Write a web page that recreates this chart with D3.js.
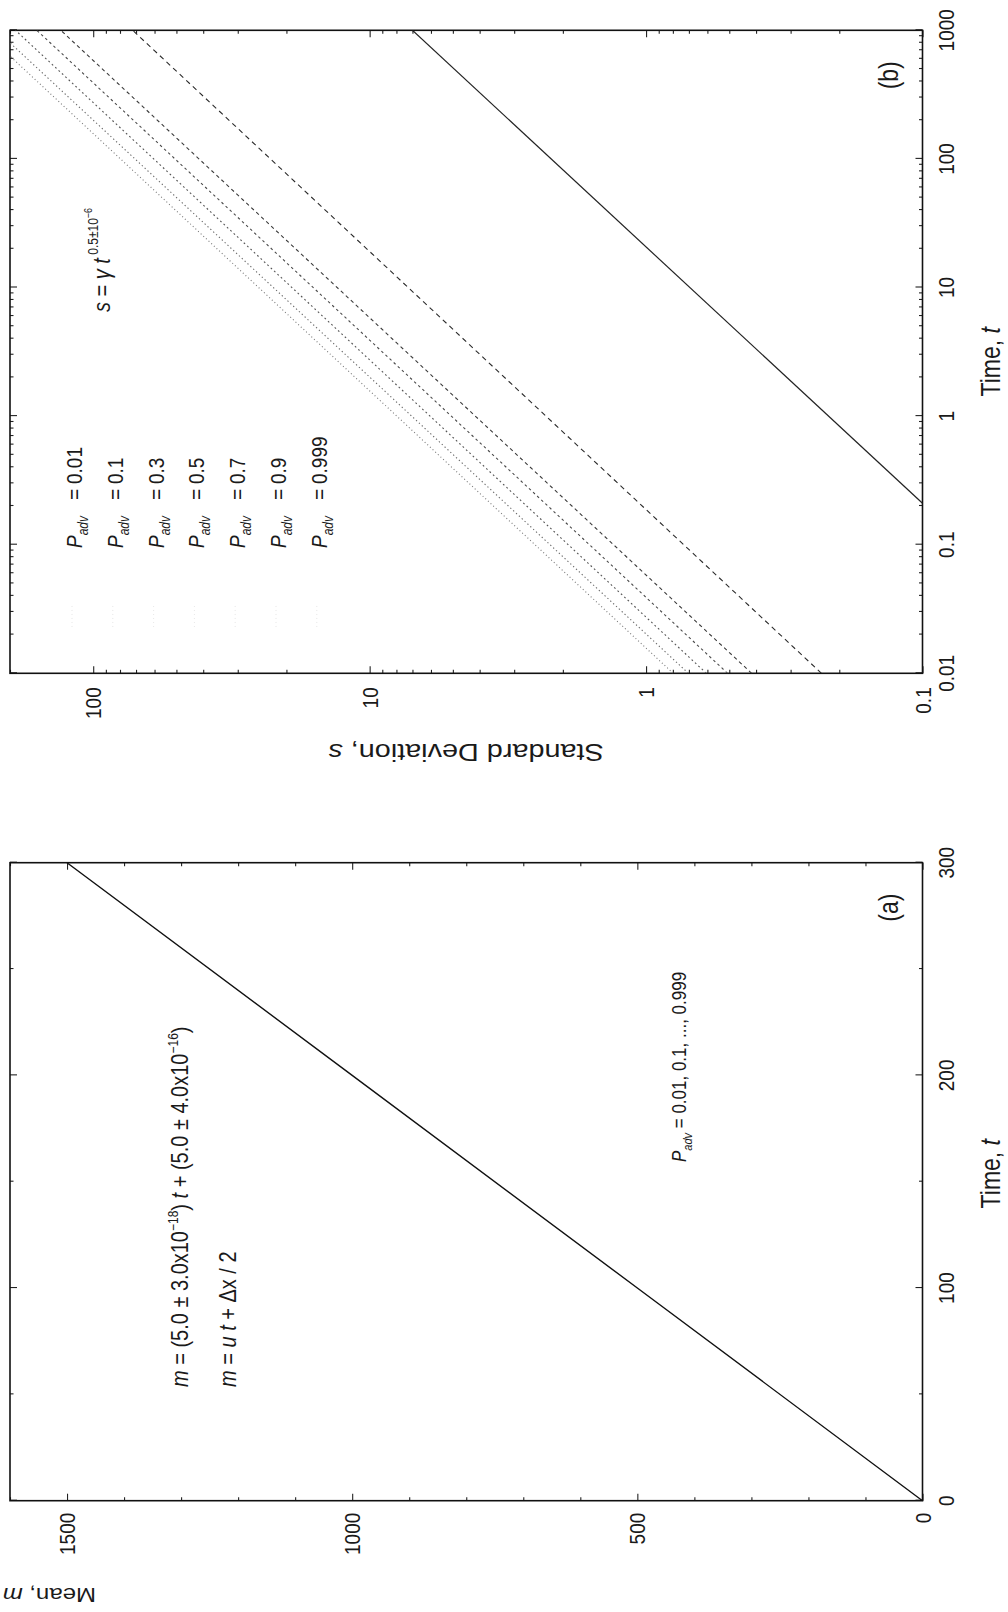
<!DOCTYPE html>
<html><head><meta charset="utf-8">
<script src="https://cdn.jsdelivr.net/npm/d3@7"></script>
<style>
body{margin:0;background:#fff}
svg{display:block}
text{font-family:"Liberation Sans",Arial,Helvetica,sans-serif;fill:#1a1a1a}
</style>
</head><body>
<script>
// ---------------- data ----------------
// Panel (a): mean vs time (all P_adv curves coincide)
const meanTime  = [0, 100, 200, 300];
const meanValue = [0, 500, 1000, 1500];
const aTimeTicks  = [0, 100, 200, 300];
const aTimeMinor  = [50, 150, 250];
const aMeanTicks  = [0, 500, 1000, 1500];
const aMeanMinor  = [100,200,300,400,600,700,800,900,1100,1200,1300,1400,1600];

// Panel (b): standard deviation vs time (log-log), one straight segment per P_adv
const padvLabels = ["0.01", "0.1", "0.3", "0.5", "0.7", "0.9", "0.999"];
const sdStartT = [0.01, 0.01, 0.01, 0.01, 0.01, 0.01, 0.21];
const sdStartS = [0.798, 0.703, 0.605, 0.507, 0.415, 0.232, 0.1];
const sdEndT   = [630, 800, 1000, 1000, 1000, 1000, 1000];
const sdEndS   = [200, 200, 191, 160, 131, 72, 7.0];
const bTimeTicks = [0.01, 0.1, 1, 10, 100, 1000];
const bTimeTickLabels = ["0.01", "0.1", "1", "10", "100", "1000"];
const bSdTicks = [0.1, 1, 10, 100];
const bSdTickLabels = ["0.1", "1", "10", "100"];

// ---------------- styles ----------------
const lineDash  = ["1,2.6", "1.3,2.6", "1.8,2.8", "2.6,3", "3.6,3.2", "5,4", null];
const lineColor = ["#777", "#6a6a6a", "#555", "#4a4a4a", "#3a3a3a", "#2a2a2a", "#222"];
const SY = 1.2;               // vertical stretch of the scanned glyphs (screen x)
const FS = 19;                // tick label size

// ---------------- setup ----------------
const W = 1008, H = 1612;
const svg = d3.select("body").append("svg").attr("width", W).attr("height", H);
svg.append("rect").attr("width", W).attr("height", H).attr("fill", "#fff");
// original (landscape) figure, rotated onto the portrait page
const root = svg.append("g").attr("transform", `translate(0,${H}) rotate(-90)`);

function txt(g, x, y, anchor, size, parts, rot) {
  const t = g.append("text")
    .attr("transform", `translate(${x},${y}) scale(1,${SY})` + (rot ? ` rotate(${rot})` : ""))
    .attr("text-anchor", anchor).attr("font-size", size);
  let cur = 0;
  parts.forEach(p => {
    const ts = t.append("tspan").text(p.t);
    if (p.i) ts.attr("font-style", "italic");
    if (p.fs) ts.attr("font-size", p.fs);
    const target = p.dy || 0;
    if (target !== cur) { ts.attr("dy", target - cur); cur = target; }
  });
  return t;
}

function frameAxes(g, x, y, w, h, xMajor, xMinor, yMajor, yMinor) {
  const mk = (axisFn, scale, vals, size) => axisFn(scale).tickValues(vals).tickSize(size).tickFormat("");
  const put = (ax, tr) => {
    const a = g.append("g").attr("transform", tr).call(ax);
    a.select(".domain").remove();
    a.selectAll("line").attr("stroke", "#222").attr("stroke-width", 1.1);
  };
  put(mk(d3.axisBottom, x, xMajor, -7), `translate(0,${h})`);
  put(mk(d3.axisBottom, x, xMinor, -3.5), `translate(0,${h})`);
  put(mk(d3.axisTop, x, xMajor, -7), `translate(0,0)`);
  put(mk(d3.axisTop, x, xMinor, -3.5), `translate(0,0)`);
  put(mk(d3.axisLeft, y, yMajor, -7), `translate(0,0)`);
  put(mk(d3.axisLeft, y, yMinor, -3.5), `translate(0,0)`);
  put(mk(d3.axisRight, y, yMajor, -7), `translate(${w},0)`);
  put(mk(d3.axisRight, y, yMinor, -3.5), `translate(${w},0)`);
  g.append("rect").attr("width", w).attr("height", h)
    .attr("fill", "none").attr("stroke", "#111").attr("stroke-width", 1.6);
}

// ---------------- panel (a) ----------------
const A = {x0: 111.3, y0: 10, w: 638, h: 912.5};
const ga = root.append("g").attr("transform", `translate(${A.x0},${A.y0})`);
const xa = d3.scaleLinear().domain([0, 300]).range([0, A.w]);
const ya = d3.scaleLinear().domain([0, 1600]).range([A.h, 0]);
frameAxes(ga, xa, ya, A.w, A.h, aTimeTicks, aTimeMinor, aMeanTicks, aMeanMinor);
ga.append("path")
  .datum(meanTime.map((t, i) => [t, meanValue[i]]))
  .attr("d", d3.line().x(d => xa(d[0])).y(d => ya(d[1])))
  .attr("fill", "none").attr("stroke", "#111").attr("stroke-width", 1.4);
aTimeTicks.forEach(v => txt(ga, xa(v), A.h + 31, "middle", FS, [{t: String(v)}]));
aMeanTicks.forEach(v => txt(ga, -12, ya(v) + 8, "end", FS, [{t: String(v)}]));
txt(ga, A.w / 2 + 8, 1000 - A.y0, "middle", 23, [{t: "Time, "}, {t: "t", i: 1}]);
txt(root, 24, 96, "start", 20, [{t: "Mean, "}, {t: "m", i: 1}], -90);
txt(ga, A.w - 45, 888, "middle", 23, [{t: "(a)"}]);
// equations
txt(root, 225, 188, "start", 20, [
  {t: "m", i: 1}, {t: " = (5.0 ± 3.0x10"}, {t: "−18", fs: 12, dy: -8},
  {t: ") "}, {t: "t", i: 1}, {t: " + (5.0 ± 4.0x10"}, {t: "−16", fs: 12, dy: -8}, {t: ")"}
]);
txt(root, 225, 236, "start", 20, [
  {t: "m", i: 1}, {t: " = "}, {t: "u", i: 1}, {t: " "}, {t: "t", i: 1}, {t: " + Δx / 2"}
]);
txt(root, 450, 686, "start", 17, [
  {t: "P", i: 1}, {t: "adv", i: 1, fs: 11, dy: 5}, {t: " = 0.01, 0.1, ..., 0.999"}
]);

// ---------------- panel (b) ----------------
const B = {x0: 938.7, y0: 10, w: 643, h: 912.5};
const gb = root.append("g").attr("transform", `translate(${B.x0},${B.y0})`);
const xb = d3.scaleLog().domain([0.01, 1000]).range([0, B.w]);
const yb = d3.scaleLog().domain([0.1, 200]).range([B.h, 0]);
const bTimeMinor = xb.ticks().filter(v => !bTimeTicks.some(m => Math.abs(m - v) / m < 1e-6));
const bSdMinor = yb.ticks().filter(v => !bSdTicks.some(m => Math.abs(m - v) / m < 1e-6));
frameAxes(gb, xb, yb, B.w, B.h, bTimeTicks, bTimeMinor, bSdTicks, bSdMinor);

const clip = gb.append("clipPath").attr("id", "clipb");
clip.append("rect").attr("width", B.w).attr("height", B.h);
const lineB = d3.line().x(d => xb(d[0])).y(d => yb(d[1]));
padvLabels.forEach((p, i) => {
  const pts = [[sdStartT[i], sdStartS[i]], [sdEndT[i], sdEndS[i]]];
  const path = gb.append("path").datum(pts).attr("d", lineB)
    .attr("clip-path", "url(#clipb)")
    .attr("fill", "none").attr("stroke", lineColor[i])
    .attr("stroke-width", lineDash[i] ? 1.1 : 1.2);
  if (lineDash[i]) path.attr("stroke-dasharray", lineDash[i]);
});
bTimeTicks.forEach((v, i) => txt(gb, xb(v), B.h + 31, "middle", FS, [{t: bTimeTickLabels[i]}]));
bSdTicks.forEach((v, i) => txt(gb, -14, yb(v) + 8, "end", FS, [{t: bSdTickLabels[i]}]));
txt(gb, B.w / 2 - 10, 1000 - B.y0, "middle", 23, [{t: "Time, "}, {t: "t", i: 1}]);
txt(root, 868, 466, "middle", 24, [{t: "Standard Deviation, "}, {t: "s", i: 1}], -90);
txt(gb, B.w - 45, 888, "middle", 23, [{t: "(b)"}]);
txt(root, 1300, 110, "start", 20, [
  {t: "s", i: 1}, {t: " = "}, {t: "γ", i: 1}, {t: " "}, {t: "t", i: 1},
  {t: " 0.5±10", fs: 12, dy: -10}, {t: "−6", fs: 9, dy: -15}
]);
// legend
padvLabels.forEach((p, i) => {
  const yy = 82 + i * 40.8;
  gb.append("line")
    .attr("x1", 985 - B.x0).attr("x2", 1007 - B.x0)
    .attr("y1", yy - 10 - B.y0).attr("y2", yy - 10 - B.y0)
    .attr("stroke", "#dcdcdc").attr("stroke-width", 0.7)
    .attr("stroke-dasharray", "1,3");
  txt(root, 1064, yy, "start", 19, [{t: "P", i: 1}, {t: "adv", i: 1, fs: 12, dy: 5}]);
  txt(root, 1112, yy, "start", 19, [{t: "="}]);
  txt(root, 1128, yy, "start", 19, [{t: p}]);
});
</script>
</body></html>
